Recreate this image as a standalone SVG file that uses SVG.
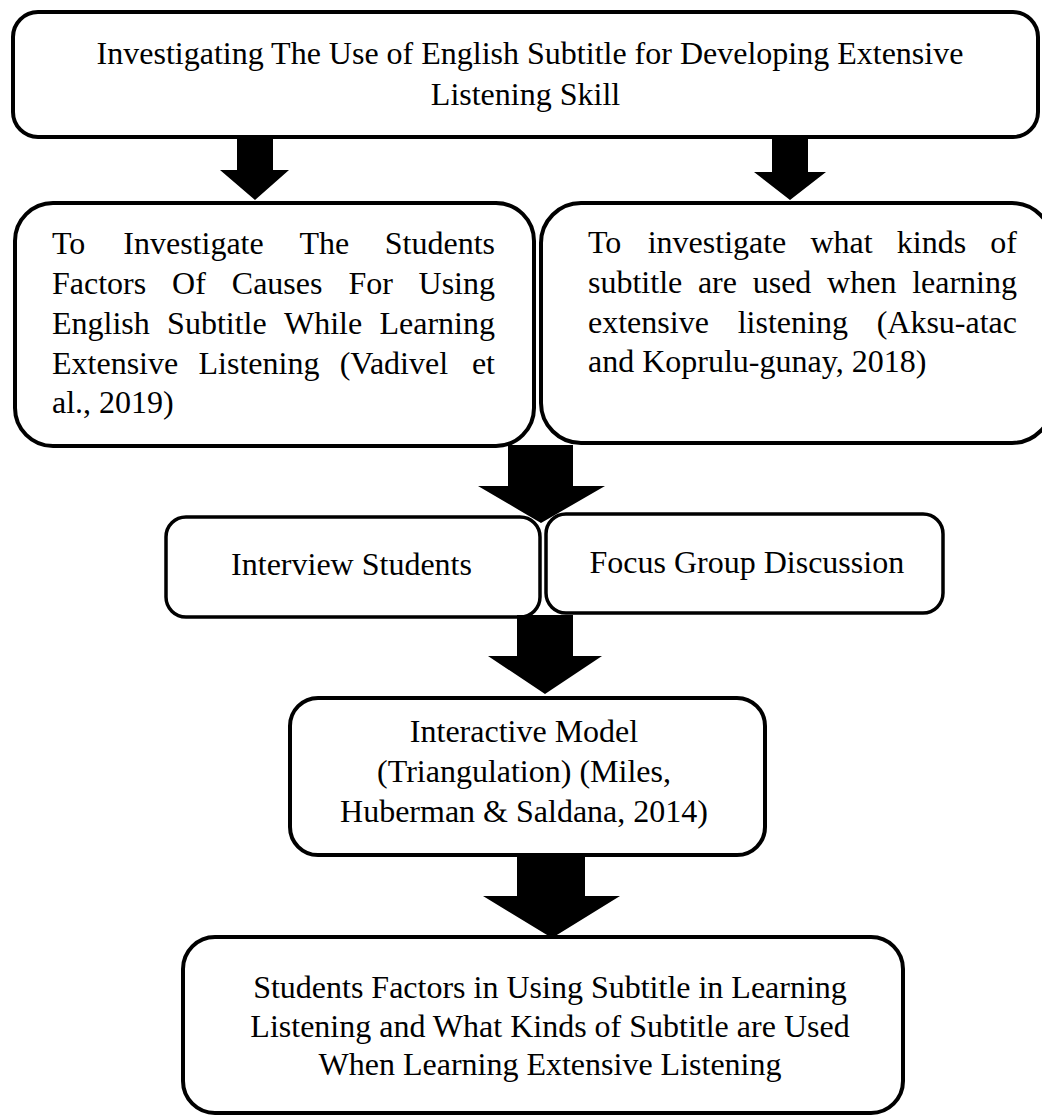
<svg xmlns="http://www.w3.org/2000/svg" width="1042" height="1115" viewBox="0 0 1042 1115">
<style>
.box{fill:#fff;stroke:#000;stroke-width:4}
.sm{stroke-width:3.5}
.t{font-family:"Liberation Serif","Times New Roman",serif;font-size:32px;fill:#000}
.c{text-anchor:middle}
.e{text-anchor:end}
.arr{fill:#000;stroke:none}
</style>
<rect width="1042" height="1115" fill="#fff"/>
<g id="node-title">
<rect class="box" x="13" y="12" width="1025" height="125" rx="25"/>
<text class="t c" x="530" y="64">Investigating The Use of English Subtitle for Developing Extensive</text>
<text class="t c" x="525.5" y="105">Listening Skill</text>
</g>
<g id="node-objective-1">
<rect class="box" x="15" y="203" width="519" height="243" rx="38"/>
<text class="t" y="254"><tspan x="52">To</tspan><tspan x="123.3">Investigate</tspan><tspan x="299.4">The</tspan><tspan x="495" text-anchor="end">Students</tspan></text>
<text class="t" y="294"><tspan x="52">Factors</tspan><tspan x="172.1">Of</tspan><tspan x="231.8">Causes</tspan><tspan x="348.4">For</tspan><tspan x="495" text-anchor="end">Using</tspan></text>
<text class="t" y="334"><tspan x="52">English</tspan><tspan x="167.1">Subtitle</tspan><tspan x="284">While</tspan><tspan x="495" text-anchor="end">Learning</tspan></text>
<text class="t" y="374"><tspan x="52">Extensive</tspan><tspan x="198.5">Listening</tspan><tspan x="339.7">(Vadivel</tspan><tspan x="495" text-anchor="end">et</tspan></text>
<text class="t" x="52" y="413">al., 2019)</text>
</g>
<g id="node-objective-2">
<rect class="box" x="541" y="203" width="511" height="240" rx="40"/>
<text class="t" y="253"><tspan x="588">To</tspan><tspan x="647.7">investigate</tspan><tspan x="810.5">what</tspan><tspan x="896.8">kinds</tspan><tspan x="1017" text-anchor="end">of</tspan></text>
<text class="t" y="293"><tspan x="588">subtitle</tspan><tspan x="697.9">are</tspan><tspan x="752.7">used</tspan><tspan x="827.1">when</tspan><tspan x="1017" text-anchor="end">learning</tspan></text>
<text class="t" y="333"><tspan x="588">extensive</tspan><tspan x="737.7">listening</tspan><tspan x="1017" text-anchor="end">(Aksu-atac</tspan></text>
<text class="t" x="588" y="372">and Koprulu-gunay, 2018)</text>
</g>
<g id="node-interview">
<rect class="box sm" x="166" y="517" width="374" height="100" rx="20"/>
<text class="t c" x="351.5" y="575">Interview Students</text>
</g>
<g id="node-fgd">
<rect class="box sm" x="546" y="514" width="397" height="99" rx="20"/>
<text class="t c" x="746.8" y="573">Focus Group Discussion</text>
</g>
<g id="node-analysis">
<rect class="box" x="290" y="698" width="475" height="157" rx="28"/>
<text class="t c" x="524" y="742">Interactive Model</text>
<text class="t c" x="524" y="782">(Triangulation) (Miles,</text>
<text class="t c" x="524" y="822">Huberman &amp; Saldana, 2014)</text>
</g>
<g id="node-result">
<rect class="box" x="183" y="937" width="720" height="176" rx="32"/>
<text class="t c" x="550" y="998">Students Factors in Using Subtitle in Learning</text>
<text class="t c" x="550" y="1037">Listening and What Kinds of Subtitle are Used</text>
<text class="t c" x="550" y="1075">When Learning Extensive Listening</text>
</g>
<g id="connectors">
<polygon class="arr" points="237,137 273,137 273,170 289,170 255,200 220,170 237,170"/>
<polygon class="arr" points="772,137 808,137 808,172 826,172 790,200 754,172 772,172"/>
<polygon class="arr" points="508,445 573,445 573,486 605,486 541,523 478,486 508,486"/>
<polygon class="arr" points="517,615 573,615 573,656 602,656 545,694 488,656 517,656"/>
<polygon class="arr" points="517,855 585,855 585,896 620,896 552,938 483,896 517,896"/>
</g>
</svg>
